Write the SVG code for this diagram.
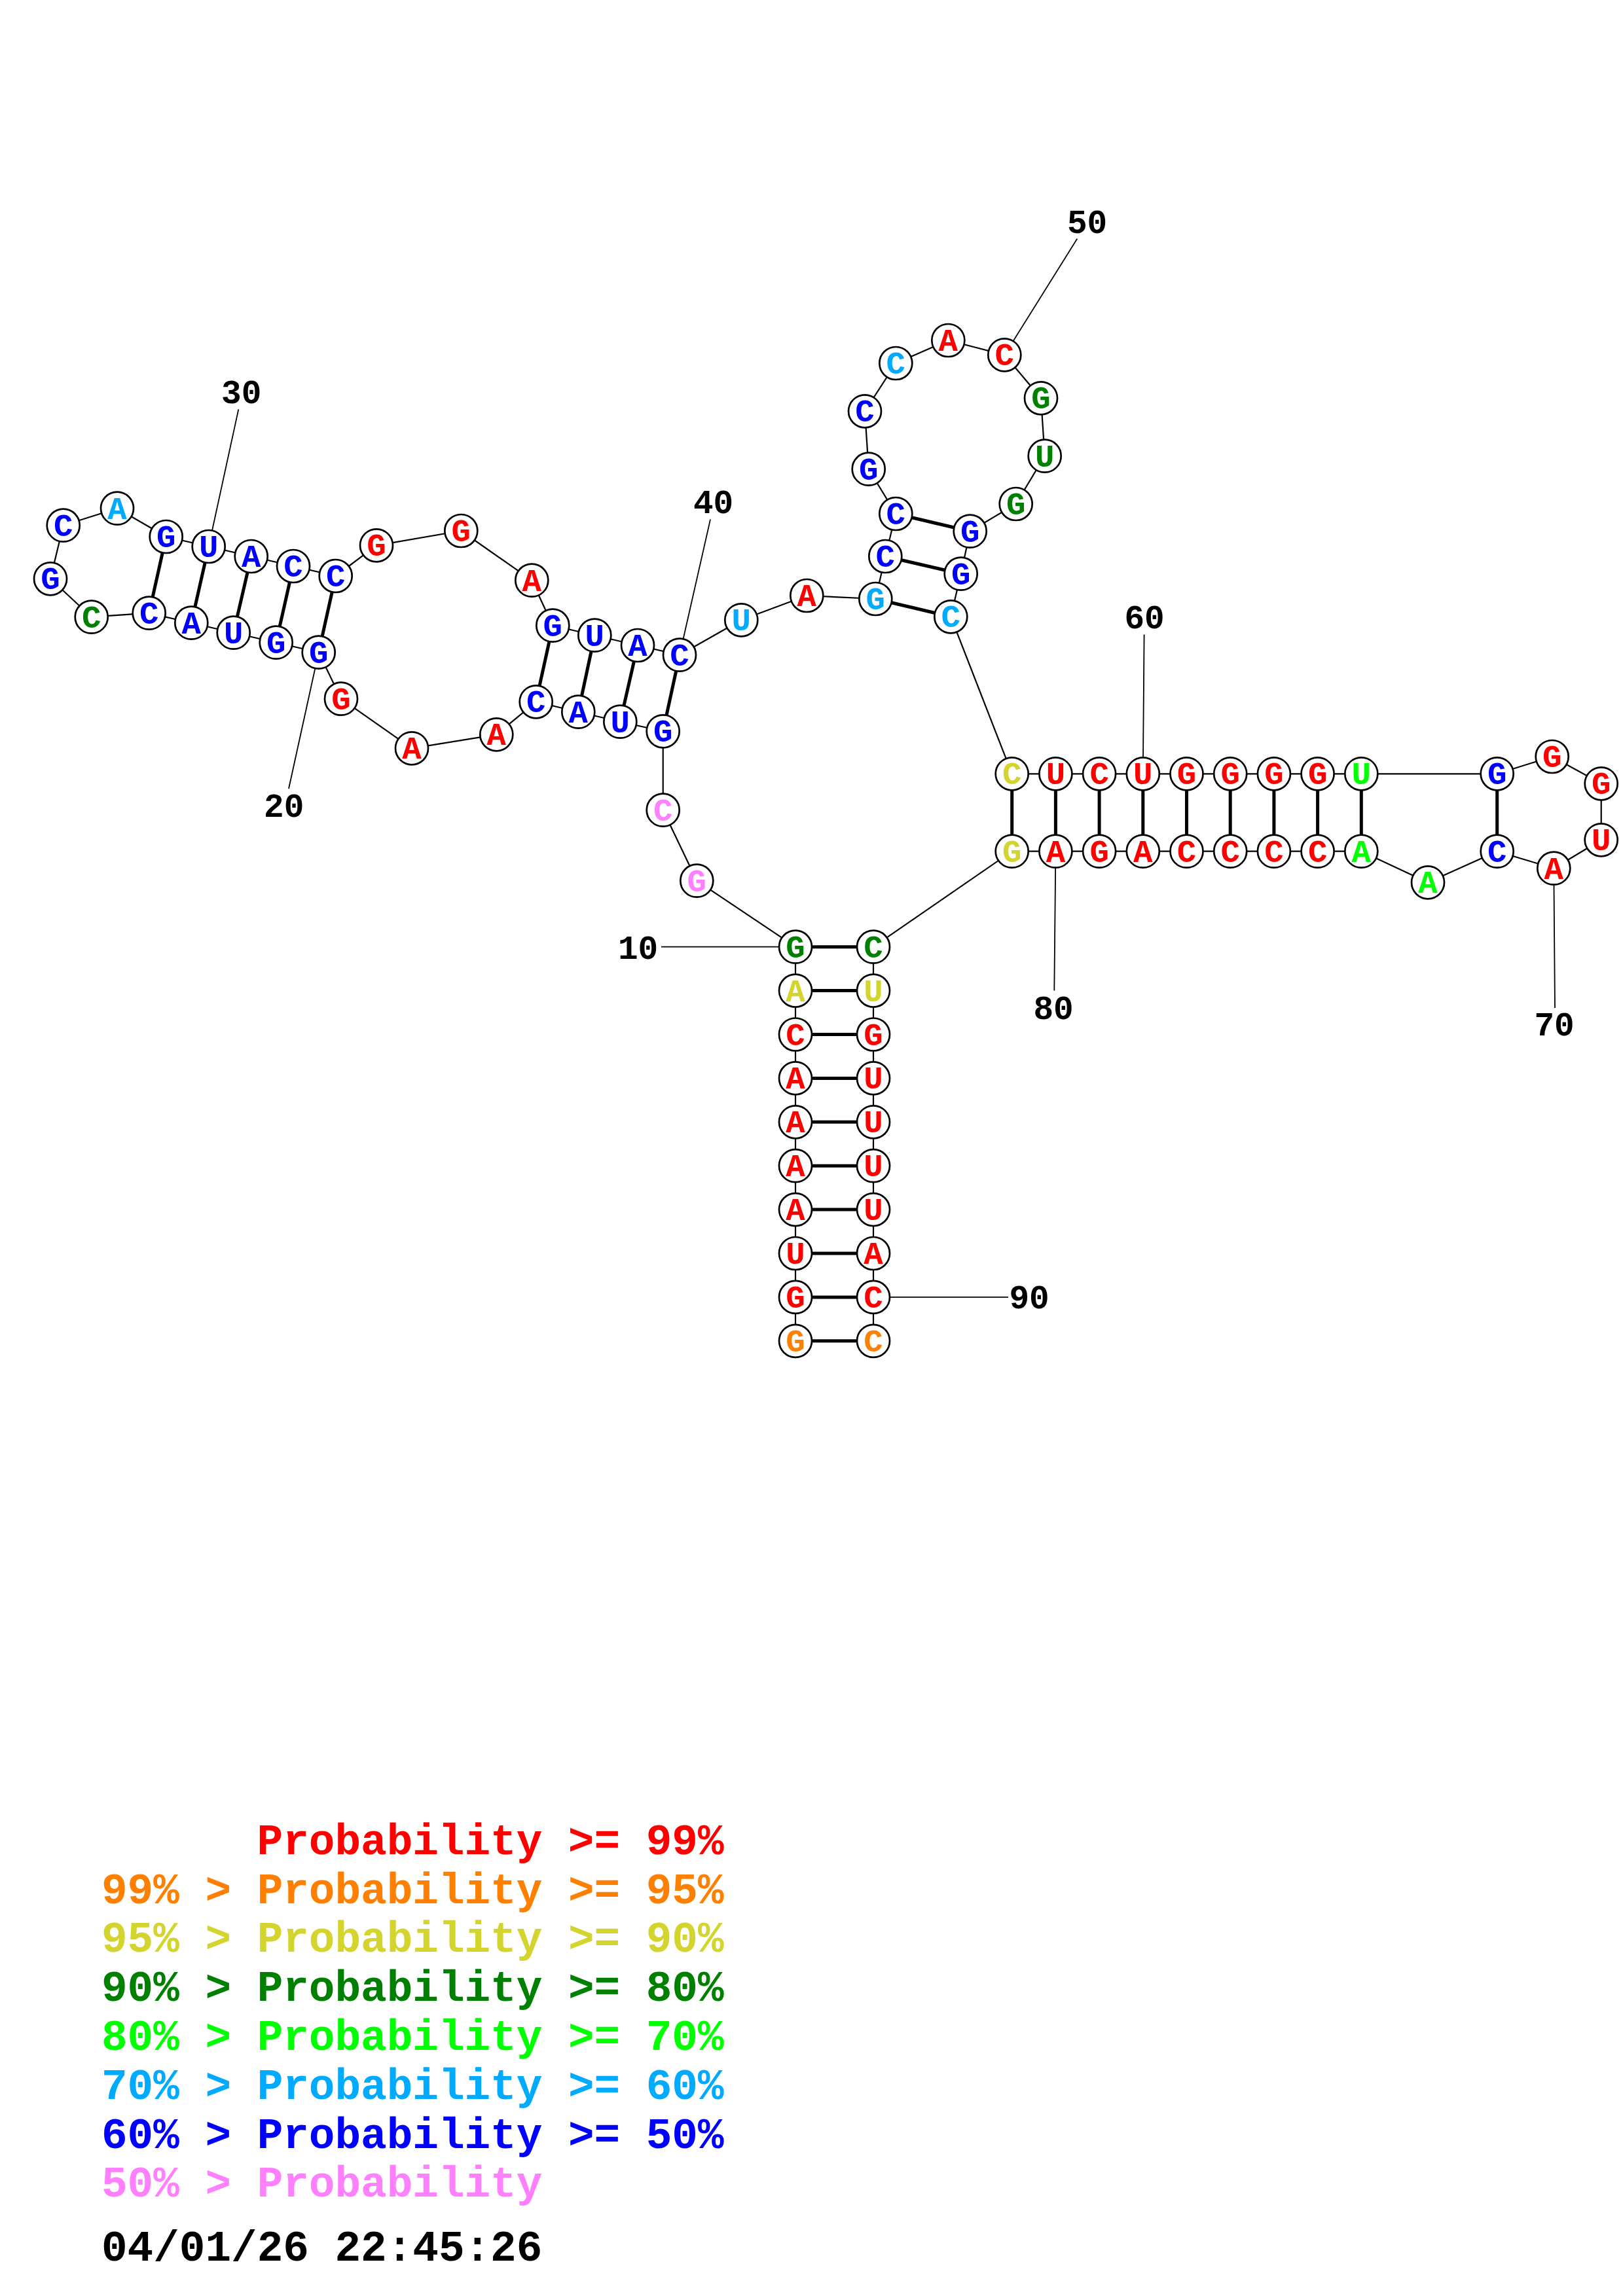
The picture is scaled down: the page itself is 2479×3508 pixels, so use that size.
<svg xmlns="http://www.w3.org/2000/svg" width="2479" height="3508" viewBox="0 0 2479 3508">
<style>
.bg{fill:#fff}
.nd circle{fill:#fff;stroke:#000;stroke-width:2.7}
.nd text{font-family:"Liberation Mono",monospace;font-weight:bold;font-size:49px;text-anchor:middle}
.bb{stroke:#000;stroke-width:2.2;fill:none}
.bp{stroke:#000;stroke-width:5;fill:none}
.ll{stroke:#000;stroke-width:1.8;fill:none}
.num{font-family:"Liberation Mono",monospace;font-weight:bold;font-size:51px;text-anchor:middle;fill:#000}
.leg{font-family:"Liberation Mono",monospace;font-weight:bold;font-size:66px}
.r{fill:#FF0000}.o{fill:#FF8000}.y{fill:#D4D42E}.dg{fill:#008000}.g{fill:#00FF00}.lb{fill:#00AAFF}.b{fill:#0000FF}.p{fill:#FF80FF}.k{fill:#000}
</style>
<rect class="bg" x="0" y="0" width="2479" height="3508"/>
<g id="connectors">
<g id="backbone">
<line class="bb" x1="1215" y1="2048.8" x2="1215" y2="1446.7"/>
<line class="bb" x1="1215" y1="1446.7" x2="1064.3" y2="1345.7"/>
<line class="bb" x1="1064.3" y1="1345.7" x2="1012.7" y2="1237.7"/>
<line class="bb" x1="1012.7" y1="1237.7" x2="1012.7" y2="1117.3"/>
<line class="bb" x1="1012.7" y1="1117.3" x2="947.3" y2="1102.7"/>
<line class="bb" x1="947.3" y1="1102.7" x2="883.3" y2="1087.7"/>
<line class="bb" x1="883.3" y1="1087.7" x2="818.7" y2="1072.3"/>
<line class="bb" x1="818.7" y1="1072.3" x2="758.3" y2="1122.3"/>
<line class="bb" x1="758.3" y1="1122.3" x2="629" y2="1143.3"/>
<line class="bb" x1="629" y1="1143.3" x2="521" y2="1067.7"/>
<line class="bb" x1="521" y1="1067.7" x2="486.7" y2="996.7"/>
<line class="bb" x1="486.7" y1="996.7" x2="421.7" y2="981.7"/>
<line class="bb" x1="421.7" y1="981.7" x2="356.7" y2="966.7"/>
<line class="bb" x1="356.7" y1="966.7" x2="292.3" y2="951.7"/>
<line class="bb" x1="292.3" y1="951.7" x2="227.7" y2="936.7"/>
<line class="bb" x1="227.7" y1="936.7" x2="139.7" y2="942.7"/>
<line class="bb" x1="139.7" y1="942.7" x2="77" y2="884.3"/>
<line class="bb" x1="77" y1="884.3" x2="96.7" y2="802.7"/>
<line class="bb" x1="96.7" y1="802.7" x2="179" y2="776.7"/>
<line class="bb" x1="179" y1="776.7" x2="253.7" y2="820"/>
<line class="bb" x1="253.7" y1="820" x2="318.7" y2="835"/>
<line class="bb" x1="318.7" y1="835" x2="383.7" y2="850"/>
<line class="bb" x1="383.7" y1="850" x2="448" y2="865"/>
<line class="bb" x1="448" y1="865" x2="512.7" y2="880"/>
<line class="bb" x1="512.7" y1="880" x2="575" y2="833.3"/>
<line class="bb" x1="575" y1="833.3" x2="704.3" y2="811"/>
<line class="bb" x1="704.3" y1="811" x2="812.3" y2="886.7"/>
<line class="bb" x1="812.3" y1="886.7" x2="844.3" y2="955.7"/>
<line class="bb" x1="844.3" y1="955.7" x2="908.3" y2="970.7"/>
<line class="bb" x1="908.3" y1="970.7" x2="974" y2="986"/>
<line class="bb" x1="974" y1="986" x2="1038" y2="1000.7"/>
<line class="bb" x1="1038" y1="1000.7" x2="1132.3" y2="947.3"/>
<line class="bb" x1="1132.3" y1="947.3" x2="1232.3" y2="910"/>
<line class="bb" x1="1232.3" y1="910" x2="1337.3" y2="915"/>
<line class="bb" x1="1337.3" y1="915" x2="1352.3" y2="850"/>
<line class="bb" x1="1352.3" y1="850" x2="1368.3" y2="785"/>
<line class="bb" x1="1368.3" y1="785" x2="1326.7" y2="716.7"/>
<line class="bb" x1="1326.7" y1="716.7" x2="1321" y2="628.3"/>
<line class="bb" x1="1321" y1="628.3" x2="1368.3" y2="555"/>
<line class="bb" x1="1368.3" y1="555" x2="1448.3" y2="520"/>
<line class="bb" x1="1448.3" y1="520" x2="1534.3" y2="542.3"/>
<line class="bb" x1="1534.3" y1="542.3" x2="1590" y2="608.3"/>
<line class="bb" x1="1590" y1="608.3" x2="1595.7" y2="696.7"/>
<line class="bb" x1="1595.7" y1="696.7" x2="1551.7" y2="770"/>
<line class="bb" x1="1551.7" y1="770" x2="1481.7" y2="811.7"/>
<line class="bb" x1="1481.7" y1="811.7" x2="1467.7" y2="876.7"/>
<line class="bb" x1="1467.7" y1="876.7" x2="1452.3" y2="942.3"/>
<line class="bb" x1="1452.3" y1="942.3" x2="1545.7" y2="1182.3"/>
<line class="bb" x1="1545.7" y1="1182.3" x2="2286.7" y2="1182.3"/>
<line class="bb" x1="2286.7" y1="1182.3" x2="2370.7" y2="1156"/>
<line class="bb" x1="2370.7" y1="1156" x2="2445.7" y2="1197.3"/>
<line class="bb" x1="2445.7" y1="1197.3" x2="2445.7" y2="1283.3"/>
<line class="bb" x1="2445.7" y1="1283.3" x2="2373.3" y2="1326.7"/>
<line class="bb" x1="2373.3" y1="1326.7" x2="2286.7" y2="1300.7"/>
<line class="bb" x1="2286.7" y1="1300.7" x2="2181" y2="1348.3"/>
<line class="bb" x1="2181" y1="1348.3" x2="2079.3" y2="1300.7"/>
<line class="bb" x1="2079.3" y1="1300.7" x2="1545.7" y2="1300.7"/>
<line class="bb" x1="1545.7" y1="1300.7" x2="1334" y2="1446.7"/>
<line class="bb" x1="1334" y1="1446.7" x2="1334" y2="2048.8"/>
</g>
<g id="pairs">
<line class="bp" x1="1215" y1="2048.8" x2="1334" y2="2048.8"/>
<line class="bp" x1="1215" y1="1981.9" x2="1334" y2="1981.9"/>
<line class="bp" x1="1215" y1="1915" x2="1334" y2="1915"/>
<line class="bp" x1="1215" y1="1848.1" x2="1334" y2="1848.1"/>
<line class="bp" x1="1215" y1="1781.2" x2="1334" y2="1781.2"/>
<line class="bp" x1="1215" y1="1714.3" x2="1334" y2="1714.3"/>
<line class="bp" x1="1215" y1="1647.4" x2="1334" y2="1647.4"/>
<line class="bp" x1="1215" y1="1580.5" x2="1334" y2="1580.5"/>
<line class="bp" x1="1215" y1="1513.6" x2="1334" y2="1513.6"/>
<line class="bp" x1="1215" y1="1446.7" x2="1334" y2="1446.7"/>
<line class="bp" x1="1012.7" y1="1117.3" x2="1038" y2="1000.7"/>
<line class="bp" x1="947.3" y1="1102.7" x2="974" y2="986"/>
<line class="bp" x1="883.3" y1="1087.7" x2="908.3" y2="970.7"/>
<line class="bp" x1="818.7" y1="1072.3" x2="844.3" y2="955.7"/>
<line class="bp" x1="486.7" y1="996.7" x2="512.7" y2="880"/>
<line class="bp" x1="421.7" y1="981.7" x2="448" y2="865"/>
<line class="bp" x1="356.7" y1="966.7" x2="383.7" y2="850"/>
<line class="bp" x1="292.3" y1="951.7" x2="318.7" y2="835"/>
<line class="bp" x1="227.7" y1="936.7" x2="253.7" y2="820"/>
<line class="bp" x1="1337.3" y1="915" x2="1452.3" y2="942.3"/>
<line class="bp" x1="1352.3" y1="850" x2="1467.7" y2="876.7"/>
<line class="bp" x1="1368.3" y1="785" x2="1481.7" y2="811.7"/>
<line class="bp" x1="1545.7" y1="1182.3" x2="1545.7" y2="1300.7"/>
<line class="bp" x1="1612.4" y1="1182.3" x2="1612.4" y2="1300.7"/>
<line class="bp" x1="1679.1" y1="1182.3" x2="1679.1" y2="1300.7"/>
<line class="bp" x1="1745.8" y1="1182.3" x2="1745.8" y2="1300.7"/>
<line class="bp" x1="1812.5" y1="1182.3" x2="1812.5" y2="1300.7"/>
<line class="bp" x1="1879.2" y1="1182.3" x2="1879.2" y2="1300.7"/>
<line class="bp" x1="1945.9" y1="1182.3" x2="1945.9" y2="1300.7"/>
<line class="bp" x1="2012.6" y1="1182.3" x2="2012.6" y2="1300.7"/>
<line class="bp" x1="2079.3" y1="1182.3" x2="2079.3" y2="1300.7"/>
<line class="bp" x1="2286.7" y1="1182.3" x2="2286.7" y2="1300.7"/>
</g>
<g id="label-lines">
<line class="ll" x1="1010" y1="1446.7" x2="1215" y2="1446.7"/>
<line class="ll" x1="441" y1="1205" x2="486.7" y2="996.7"/>
<line class="ll" x1="364.3" y1="625.4" x2="318.7" y2="835"/>
<line class="ll" x1="1085" y1="793.6" x2="1038" y2="1000.7"/>
<line class="ll" x1="1645.3" y1="364.7" x2="1534.3" y2="542.3"/>
<line class="ll" x1="1747.6" y1="969.4" x2="1745.8" y2="1182.3"/>
<line class="ll" x1="2375" y1="1540" x2="2373.3" y2="1326.7"/>
<line class="ll" x1="1610.3" y1="1513.4" x2="1612.4" y2="1300.7"/>
<line class="ll" x1="1540" y1="1981.9" x2="1334" y2="1981.9"/>
</g>
</g>
<g id="nodes" class="nd">
<g id="n1"><circle cx="1215" cy="2048.8" r="25"/><text x="1215" y="2064.8" class="o">G</text></g>
<g id="n2"><circle cx="1215" cy="1981.9" r="25"/><text x="1215" y="1997.9" class="r">G</text></g>
<g id="n3"><circle cx="1215" cy="1915" r="25"/><text x="1215" y="1931" class="r">U</text></g>
<g id="n4"><circle cx="1215" cy="1848.1" r="25"/><text x="1215" y="1864.1" class="r">A</text></g>
<g id="n5"><circle cx="1215" cy="1781.2" r="25"/><text x="1215" y="1797.2" class="r">A</text></g>
<g id="n6"><circle cx="1215" cy="1714.3" r="25"/><text x="1215" y="1730.3" class="r">A</text></g>
<g id="n7"><circle cx="1215" cy="1647.4" r="25"/><text x="1215" y="1663.4" class="r">A</text></g>
<g id="n8"><circle cx="1215" cy="1580.5" r="25"/><text x="1215" y="1596.5" class="r">C</text></g>
<g id="n9"><circle cx="1215" cy="1513.6" r="25"/><text x="1215" y="1529.6" class="y">A</text></g>
<g id="n10"><circle cx="1215" cy="1446.7" r="25"/><text x="1215" y="1462.7" class="dg">G</text></g>
<g id="n11"><circle cx="1064.3" cy="1345.7" r="25"/><text x="1064.3" y="1361.7" class="p">G</text></g>
<g id="n12"><circle cx="1012.7" cy="1237.7" r="25"/><text x="1012.7" y="1253.7" class="p">C</text></g>
<g id="n13"><circle cx="1012.7" cy="1117.3" r="25"/><text x="1012.7" y="1133.3" class="b">G</text></g>
<g id="n14"><circle cx="947.3" cy="1102.7" r="25"/><text x="947.3" y="1118.7" class="b">U</text></g>
<g id="n15"><circle cx="883.3" cy="1087.7" r="25"/><text x="883.3" y="1103.7" class="b">A</text></g>
<g id="n16"><circle cx="818.7" cy="1072.3" r="25"/><text x="818.7" y="1088.3" class="b">C</text></g>
<g id="n17"><circle cx="758.3" cy="1122.3" r="25"/><text x="758.3" y="1138.3" class="r">A</text></g>
<g id="n18"><circle cx="629" cy="1143.3" r="25"/><text x="629" y="1159.3" class="r">A</text></g>
<g id="n19"><circle cx="521" cy="1067.7" r="25"/><text x="521" y="1083.7" class="r">G</text></g>
<g id="n20"><circle cx="486.7" cy="996.7" r="25"/><text x="486.7" y="1012.7" class="b">G</text></g>
<g id="n21"><circle cx="421.7" cy="981.7" r="25"/><text x="421.7" y="997.7" class="b">G</text></g>
<g id="n22"><circle cx="356.7" cy="966.7" r="25"/><text x="356.7" y="982.7" class="b">U</text></g>
<g id="n23"><circle cx="292.3" cy="951.7" r="25"/><text x="292.3" y="967.7" class="b">A</text></g>
<g id="n24"><circle cx="227.7" cy="936.7" r="25"/><text x="227.7" y="952.7" class="b">C</text></g>
<g id="n25"><circle cx="139.7" cy="942.7" r="25"/><text x="139.7" y="958.7" class="dg">C</text></g>
<g id="n26"><circle cx="77" cy="884.3" r="25"/><text x="77" y="900.3" class="b">G</text></g>
<g id="n27"><circle cx="96.7" cy="802.7" r="25"/><text x="96.7" y="818.7" class="b">C</text></g>
<g id="n28"><circle cx="179" cy="776.7" r="25"/><text x="179" y="792.7" class="lb">A</text></g>
<g id="n29"><circle cx="253.7" cy="820" r="25"/><text x="253.7" y="836" class="b">G</text></g>
<g id="n30"><circle cx="318.7" cy="835" r="25"/><text x="318.7" y="851" class="b">U</text></g>
<g id="n31"><circle cx="383.7" cy="850" r="25"/><text x="383.7" y="866" class="b">A</text></g>
<g id="n32"><circle cx="448" cy="865" r="25"/><text x="448" y="881" class="b">C</text></g>
<g id="n33"><circle cx="512.7" cy="880" r="25"/><text x="512.7" y="896" class="b">C</text></g>
<g id="n34"><circle cx="575" cy="833.3" r="25"/><text x="575" y="849.3" class="r">G</text></g>
<g id="n35"><circle cx="704.3" cy="811" r="25"/><text x="704.3" y="827" class="r">G</text></g>
<g id="n36"><circle cx="812.3" cy="886.7" r="25"/><text x="812.3" y="902.7" class="r">A</text></g>
<g id="n37"><circle cx="844.3" cy="955.7" r="25"/><text x="844.3" y="971.7" class="b">G</text></g>
<g id="n38"><circle cx="908.3" cy="970.7" r="25"/><text x="908.3" y="986.7" class="b">U</text></g>
<g id="n39"><circle cx="974" cy="986" r="25"/><text x="974" y="1002" class="b">A</text></g>
<g id="n40"><circle cx="1038" cy="1000.7" r="25"/><text x="1038" y="1016.7" class="b">C</text></g>
<g id="n41"><circle cx="1132.3" cy="947.3" r="25"/><text x="1132.3" y="963.3" class="lb">U</text></g>
<g id="n42"><circle cx="1232.3" cy="910" r="25"/><text x="1232.3" y="926" class="r">A</text></g>
<g id="n43"><circle cx="1337.3" cy="915" r="25"/><text x="1337.3" y="931" class="lb">G</text></g>
<g id="n44"><circle cx="1352.3" cy="850" r="25"/><text x="1352.3" y="866" class="b">C</text></g>
<g id="n45"><circle cx="1368.3" cy="785" r="25"/><text x="1368.3" y="801" class="b">C</text></g>
<g id="n46"><circle cx="1326.7" cy="716.7" r="25"/><text x="1326.7" y="732.7" class="b">G</text></g>
<g id="n47"><circle cx="1321" cy="628.3" r="25"/><text x="1321" y="644.3" class="b">C</text></g>
<g id="n48"><circle cx="1368.3" cy="555" r="25"/><text x="1368.3" y="571" class="lb">C</text></g>
<g id="n49"><circle cx="1448.3" cy="520" r="25"/><text x="1448.3" y="536" class="r">A</text></g>
<g id="n50"><circle cx="1534.3" cy="542.3" r="25"/><text x="1534.3" y="558.3" class="r">C</text></g>
<g id="n51"><circle cx="1590" cy="608.3" r="25"/><text x="1590" y="624.3" class="dg">G</text></g>
<g id="n52"><circle cx="1595.7" cy="696.7" r="25"/><text x="1595.7" y="712.7" class="dg">U</text></g>
<g id="n53"><circle cx="1551.7" cy="770" r="25"/><text x="1551.7" y="786" class="dg">G</text></g>
<g id="n54"><circle cx="1481.7" cy="811.7" r="25"/><text x="1481.7" y="827.7" class="b">G</text></g>
<g id="n55"><circle cx="1467.7" cy="876.7" r="25"/><text x="1467.7" y="892.7" class="b">G</text></g>
<g id="n56"><circle cx="1452.3" cy="942.3" r="25"/><text x="1452.3" y="958.3" class="lb">C</text></g>
<g id="n57"><circle cx="1545.7" cy="1182.3" r="25"/><text x="1545.7" y="1198.3" class="y">C</text></g>
<g id="n58"><circle cx="1612.4" cy="1182.3" r="25"/><text x="1612.4" y="1198.3" class="r">U</text></g>
<g id="n59"><circle cx="1679.1" cy="1182.3" r="25"/><text x="1679.1" y="1198.3" class="r">C</text></g>
<g id="n60"><circle cx="1745.8" cy="1182.3" r="25"/><text x="1745.8" y="1198.3" class="r">U</text></g>
<g id="n61"><circle cx="1812.5" cy="1182.3" r="25"/><text x="1812.5" y="1198.3" class="r">G</text></g>
<g id="n62"><circle cx="1879.2" cy="1182.3" r="25"/><text x="1879.2" y="1198.3" class="r">G</text></g>
<g id="n63"><circle cx="1945.9" cy="1182.3" r="25"/><text x="1945.9" y="1198.3" class="r">G</text></g>
<g id="n64"><circle cx="2012.6" cy="1182.3" r="25"/><text x="2012.6" y="1198.3" class="r">G</text></g>
<g id="n65"><circle cx="2079.3" cy="1182.3" r="25"/><text x="2079.3" y="1198.3" class="g">U</text></g>
<g id="n66"><circle cx="2286.7" cy="1182.3" r="25"/><text x="2286.7" y="1198.3" class="b">G</text></g>
<g id="n67"><circle cx="2370.7" cy="1156" r="25"/><text x="2370.7" y="1172" class="r">G</text></g>
<g id="n68"><circle cx="2445.7" cy="1197.3" r="25"/><text x="2445.7" y="1213.3" class="r">G</text></g>
<g id="n69"><circle cx="2445.7" cy="1283.3" r="25"/><text x="2445.7" y="1299.3" class="r">U</text></g>
<g id="n70"><circle cx="2373.3" cy="1326.7" r="25"/><text x="2373.3" y="1342.7" class="r">A</text></g>
<g id="n71"><circle cx="2286.7" cy="1300.7" r="25"/><text x="2286.7" y="1316.7" class="b">C</text></g>
<g id="n72"><circle cx="2181" cy="1348.3" r="25"/><text x="2181" y="1364.3" class="g">A</text></g>
<g id="n73"><circle cx="2079.3" cy="1300.7" r="25"/><text x="2079.3" y="1316.7" class="g">A</text></g>
<g id="n74"><circle cx="2012.6" cy="1300.7" r="25"/><text x="2012.6" y="1316.7" class="r">C</text></g>
<g id="n75"><circle cx="1945.9" cy="1300.7" r="25"/><text x="1945.9" y="1316.7" class="r">C</text></g>
<g id="n76"><circle cx="1879.2" cy="1300.7" r="25"/><text x="1879.2" y="1316.7" class="r">C</text></g>
<g id="n77"><circle cx="1812.5" cy="1300.7" r="25"/><text x="1812.5" y="1316.7" class="r">C</text></g>
<g id="n78"><circle cx="1745.8" cy="1300.7" r="25"/><text x="1745.8" y="1316.7" class="r">A</text></g>
<g id="n79"><circle cx="1679.1" cy="1300.7" r="25"/><text x="1679.1" y="1316.7" class="r">G</text></g>
<g id="n80"><circle cx="1612.4" cy="1300.7" r="25"/><text x="1612.4" y="1316.7" class="r">A</text></g>
<g id="n81"><circle cx="1545.7" cy="1300.7" r="25"/><text x="1545.7" y="1316.7" class="y">G</text></g>
<g id="n82"><circle cx="1334" cy="1446.7" r="25"/><text x="1334" y="1462.7" class="dg">C</text></g>
<g id="n83"><circle cx="1334" cy="1513.6" r="25"/><text x="1334" y="1529.6" class="y">U</text></g>
<g id="n84"><circle cx="1334" cy="1580.5" r="25"/><text x="1334" y="1596.5" class="r">G</text></g>
<g id="n85"><circle cx="1334" cy="1647.4" r="25"/><text x="1334" y="1663.4" class="r">U</text></g>
<g id="n86"><circle cx="1334" cy="1714.3" r="25"/><text x="1334" y="1730.3" class="r">U</text></g>
<g id="n87"><circle cx="1334" cy="1781.2" r="25"/><text x="1334" y="1797.2" class="r">U</text></g>
<g id="n88"><circle cx="1334" cy="1848.1" r="25"/><text x="1334" y="1864.1" class="r">U</text></g>
<g id="n89"><circle cx="1334" cy="1915" r="25"/><text x="1334" y="1931" class="r">A</text></g>
<g id="n90"><circle cx="1334" cy="1981.9" r="25"/><text x="1334" y="1997.9" class="r">C</text></g>
<g id="n91"><circle cx="1334" cy="2048.8" r="25"/><text x="1334" y="2064.8" class="o">C</text></g>
</g>
<g id="numbers">
<text class="num" x="974.5" y="1465">10</text>
<text class="num" x="433.7" y="1248">20</text>
<text class="num" x="368.7" y="616">30</text>
<text class="num" x="1089.6" y="784">40</text>
<text class="num" x="1660.6" y="356">50</text>
<text class="num" x="1748" y="960">60</text>
<text class="num" x="2374" y="1582">70</text>
<text class="num" x="1609" y="1557">80</text>
<text class="num" x="1572" y="1999">90</text>
</g>
<g id="legend" class="leg">
<text x="392.6" y="2832.7" class="r">Probability &gt;= 99%</text>
<text x="155" y="2907.5" class="o">99% &gt; Probability &gt;= 95%</text>
<text x="155" y="2982.3" class="y">95% &gt; Probability &gt;= 90%</text>
<text x="155" y="3057.1" class="dg">90% &gt; Probability &gt;= 80%</text>
<text x="155" y="3131.9" class="g">80% &gt; Probability &gt;= 70%</text>
<text x="155" y="3206.7" class="lb">70% &gt; Probability &gt;= 60%</text>
<text x="155" y="3281.5" class="b">60% &gt; Probability &gt;= 50%</text>
<text x="155" y="3356.3" class="p">50% &gt; Probability</text>
<text x="155" y="3453.5" class="k">04/01/26 22:45:26</text>
</g>
</svg>
